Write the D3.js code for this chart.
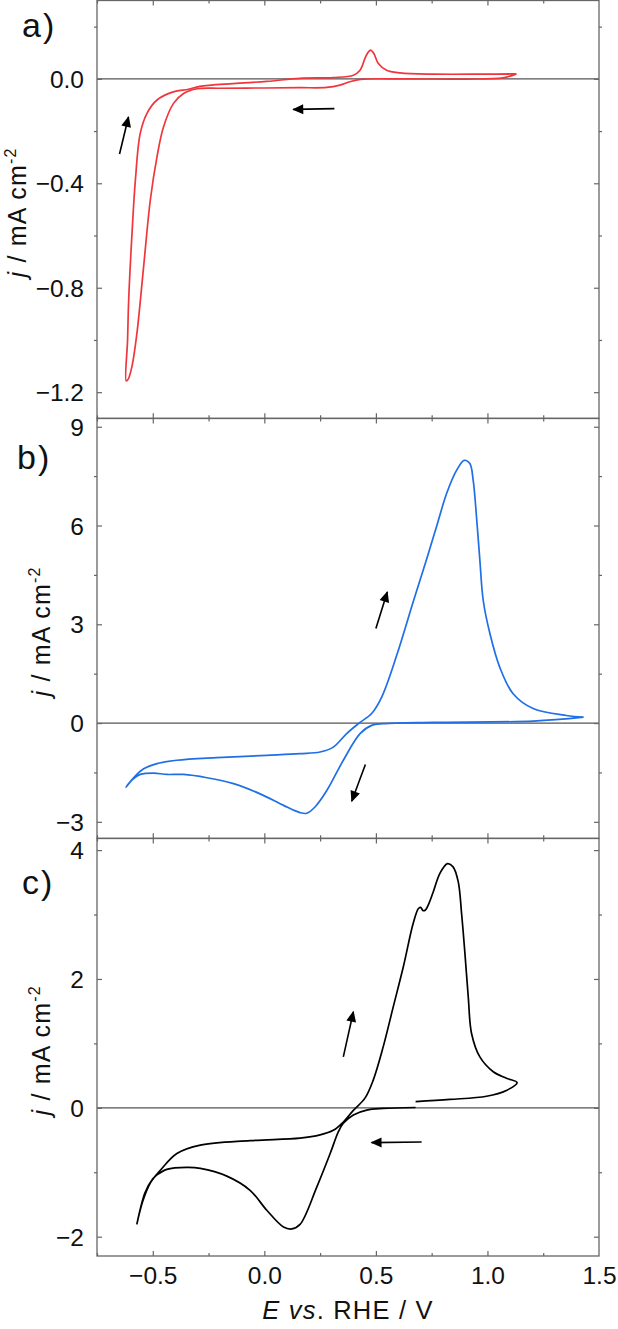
<!DOCTYPE html>
<html>
<head>
<meta charset="utf-8">
<script src="https://cdn.jsdelivr.net/npm/d3@7"></script>
<style>
  body { margin: 0; background: #fff; }
  svg { display: block; font-family: "Liberation Sans", Arial, sans-serif; }
</style>
</head>
<body>
<script>
// potential axis (shared)
const eTicks = [-0.5, 0.0, 0.5, 1.0, 1.5];
const eMinor = [-0.75, -0.25, 0.25, 0.75, 1.25];
const eDomain = [-0.75, 1.5];

// panel a: red CV, [E, j]
const cvA = [
  [1.13, 0.019], [1.07, 0.004], [0.906, -0.001], [0.61, 0.0], [0.43, -0.002], [0.384, -0.011],
  [0.339, -0.024], [0.28, -0.033], [0.16, -0.034], [0.0, -0.035], [-0.2, -0.036], [-0.3, -0.038],
  [-0.362, -0.056], [-0.407, -0.094], [-0.452, -0.184], [-0.481, -0.298], [-0.511, -0.464],
  [-0.541, -0.719], [-0.571, -0.974], [-0.593, -1.10], [-0.61, -1.15], [-0.619, -1.157],
  [-0.613, -1.0], [-0.608, -0.847], [-0.593, -0.591], [-0.578, -0.388], [-0.556, -0.208],
  [-0.526, -0.132], [-0.481, -0.081], [-0.408, -0.05], [-0.34, -0.04], [-0.29, -0.029],
  [-0.14, -0.018], [0.01, -0.010], [0.16, 0.002], [0.309, 0.005], [0.399, 0.014], [0.429, 0.033],
  [0.451, 0.078], [0.466, 0.103], [0.477, 0.110], [0.491, 0.097], [0.511, 0.059], [0.548, 0.033],
  [0.608, 0.023], [0.757, 0.018], [0.981, 0.018], [1.13, 0.019]
];
const jTicksA = [0.0, -0.4, -0.8, -1.2];
const jMinorA = [0.2, -0.2, -0.6, -1.0];
const arrowsA = [[[-0.649, -0.288], [-0.609, -0.146]], [[0.314, -0.114], [0.130, -0.117]]];

// panel b: blue CV
const cvB = [
  [1.431, 0.18], [1.205, 0.06], [0.757, 0.02], [0.533, -0.02], [0.481, -0.07], [0.429, -0.32],
  [0.354, -1.13], [0.28, -2.05], [0.227, -2.55], [0.19, -2.74], [0.16, -2.72], [0.086, -2.50],
  [-0.019, -2.15], [-0.138, -1.84], [-0.257, -1.66], [-0.362, -1.56], [-0.437, -1.56],
  [-0.496, -1.52], [-0.556, -1.56], [-0.586, -1.69], [-0.620, -1.945],
  [-0.58, -1.62], [-0.541, -1.39], [-0.481, -1.23], [-0.392, -1.13], [-0.213, -1.05], [0.011, -0.98],
  [0.160, -0.93], [0.25, -0.88], [0.309, -0.73], [0.369, -0.32], [0.421, -0.02], [0.481, 0.29],
  [0.526, 0.79], [0.593, 2.05], [0.668, 3.70], [0.727, 4.97], [0.772, 5.97], [0.817, 6.97],
  [0.862, 7.68], [0.896, 7.98], [0.921, 7.88], [0.936, 7.38], [0.951, 6.26], [0.966, 4.95],
  [0.981, 3.73], [1.011, 2.72], [1.055, 1.70], [1.115, 0.89], [1.205, 0.44], [1.354, 0.23], [1.431, 0.18]
];
const jTicksB = [9, 6, 3, 0, -3];
const jMinorB = [7.5, 4.5, 1.5, -1.5];
const arrowsB = [[[0.500, 2.87], [0.551, 3.98]], [[0.453, -1.26], [0.392, -2.37]]];

// panel c: black CV (open at 0.68 V)
const cvC = [
  [0.678, 0.005], [0.533, -0.01], [0.459, -0.035], [0.399, -0.11], [0.354, -0.24], [0.332, -0.37],
  [0.295, -0.71], [0.235, -1.23], [0.16, -1.81], [0.123, -1.88], [0.086, -1.85],
  [0.011, -1.59], [-0.064, -1.28], [-0.168, -1.06], [-0.287, -0.94], [-0.347, -0.925],
  [-0.437, -0.955], [-0.481, -1.04], [-0.50, -1.10], [-0.535, -1.32], [-0.571, -1.80],
  [-0.545, -1.45], [-0.51, -1.16], [-0.466, -0.97], [-0.392, -0.71], [-0.287, -0.58], [-0.064, -0.51],
  [0.160, -0.47], [0.25, -0.42], [0.309, -0.35], [0.354, -0.22], [0.399, -0.04], [0.451, 0.15],
  [0.488, 0.43], [0.533, 0.95], [0.578, 1.57], [0.623, 2.19], [0.667, 2.86], [0.69, 3.09],
  [0.70, 3.11], [0.712, 3.06], [0.722, 3.07], [0.735, 3.15], [0.757, 3.35], [0.787, 3.64],
  [0.821, 3.79], [0.846, 3.74], [0.869, 3.51], [0.884, 3.02], [0.899, 2.40], [0.914, 1.72],
  [0.929, 1.15], [0.966, 0.79], [1.026, 0.56], [1.085, 0.46], [1.133, 0.39], [1.085, 0.27],
  [0.996, 0.18], [0.832, 0.13], [0.678, 0.095]
];
const jTicksC = [4, 2, 0, -2];
const jMinorC = [3, 1, -1];
const arrowsC = [[[0.354, 0.79], [0.399, 1.49]], [[0.705, -0.53], [0.481, -0.54]]];

const width = 618, height = 1329;
const left = 97, right = 599;
const frameColor = '#666';
const textColor = '#111';

const svg = d3.select('body').append('svg')
  .attr('width', width)
  .attr('height', height);

svg.append('defs').append('marker')
  .attr('id', 'head')
  .attr('viewBox', '0 0 10 10')
  .attr('refX', 9).attr('refY', 5)
  .attr('markerWidth', 14).attr('markerHeight', 11)
  .attr('markerUnits', 'userSpaceOnUse')
  .attr('orient', 'auto')
  .append('path')
    .attr('d', 'M0,0.5 L10,5 L0,9.5 Z')
    .attr('fill', '#000');

const x = d3.scaleLinear().domain(eDomain).range([left, right]);

const fmtMinus = f => d => f(d).replace('-', '\u2212');

const panels = [
  { data: cvA, color: '#f0363c', domain: [-1.3, 0.3], top: 0.5, bottom: 418.3,
    ticks: jTicksA, minor: jMinorA, fmt: fmtMinus(d3.format('.1f')), arrows: arrowsA,
    label: 'a)', labelY: 37, labelX: 22, titleX: 26 },
  { data: cvB, color: '#1f6fe6', domain: [-3.5, 9.25], top: 418.5, bottom: 838.3,
    ticks: jTicksB, minor: jMinorB, fmt: fmtMinus(d3.format('d')), arrows: arrowsB,
    label: 'b)', labelY: 469, labelX: 17, titleX: 50 },
  { data: cvC, color: '#000', domain: [-2.3, 4.18], top: 838.5, bottom: 1256,
    ticks: jTicksC, minor: jMinorC, fmt: fmtMinus(d3.format('d')), arrows: arrowsC,
    label: 'c)', labelY: 894, labelX: 22, titleX: 50 }
];

panels.forEach(p => {
  const y = d3.scaleLinear().domain(p.domain).range([p.bottom, p.top]);
  const g = svg.append('g').attr('class', 'panel');

  // zero line
  g.append('line')
    .attr('x1', left).attr('x2', right)
    .attr('y1', y(0)).attr('y2', y(0))
    .attr('stroke', '#555')
    .attr('stroke-width', 1.2);

  // curve
  const line = d3.line()
    .x(d => x(d[0]))
    .y(d => y(d[1]))
    .curve(d3.curveCatmullRom.alpha(0.5));

  g.append('path')
    .datum(p.data)
    .attr('d', line)
    .attr('fill', 'none')
    .attr('stroke', p.color)
    .attr('stroke-width', 1.7)
    .attr('stroke-linejoin', 'round');

  // arrows
  g.selectAll('.arrow')
    .data(p.arrows)
    .join('line')
      .attr('class', 'arrow')
      .attr('x1', d => x(d[0][0])).attr('y1', d => y(d[0][1]))
      .attr('x2', d => x(d[1][0])).attr('y2', d => y(d[1][1]))
      .attr('stroke', '#000')
      .attr('stroke-width', 1.6)
      .attr('marker-end', 'url(#head)');

  // axes
  const styleAxis = sel => {
    sel.select('.domain').remove();
    sel.selectAll('line').attr('stroke', frameColor).attr('stroke-width', 1.2);
    sel.selectAll('text').attr('fill', textColor).attr('font-size', 24.5);
  };

  g.append('g')
    .attr('transform', `translate(${left},0)`)
    .call(d3.axisLeft(y).tickValues(p.ticks).tickSize(-5).tickPadding(13).tickFormat(p.fmt))
    .call(styleAxis)
    .call(sel => sel.selectAll('text').attr('dy', '0.35em'));
  g.append('g')
    .attr('transform', `translate(${left},0)`)
    .call(d3.axisLeft(y).tickValues(p.minor).tickSize(3).tickFormat(''))
    .call(styleAxis);
  g.append('g')
    .attr('transform', `translate(${right},0)`)
    .call(d3.axisRight(y).tickValues(p.ticks).tickSize(-5).tickFormat(''))
    .call(styleAxis);
  g.append('g')
    .attr('transform', `translate(${right},0)`)
    .call(d3.axisRight(y).tickValues(p.minor).tickSize(3).tickFormat(''))
    .call(styleAxis);

  // top and bottom ticks (inward)
  [[p.top, d3.axisTop], [p.bottom, d3.axisBottom]].forEach(([yy, ax]) => {
    g.append('g')
      .attr('transform', `translate(0,${yy})`)
      .call(ax(x).tickValues(eTicks.filter(v => v < 1.5)).tickSize(-5).tickFormat(''))
      .call(styleAxis);
    g.append('g')
      .attr('transform', `translate(0,${yy})`)
      .call(ax(x).tickValues(eMinor).tickSize(-3).tickFormat(''))
      .call(styleAxis);
  });

  // frame
  g.append('rect')
    .attr('x', left).attr('y', p.top)
    .attr('width', right - left).attr('height', p.bottom - p.top)
    .attr('fill', 'none')
    .attr('stroke', frameColor)
    .attr('stroke-width', 1.3);

  // panel label
  g.append('text')
    .attr('x', p.labelX).attr('y', p.labelY)
    .attr('font-size', 34)
    .attr('letter-spacing', 2)
    .attr('fill', textColor)
    .text(p.label);

  // y title
  const cy = (p.top + p.bottom) / 2 + 3;
  const title = g.append('text')
    .attr('transform', `translate(${p.titleX},${cy}) rotate(-90)`)
    .attr('text-anchor', 'middle')
    .attr('font-size', 25)
    .attr('letter-spacing', 1.2)
    .attr('fill', textColor);
  title.append('tspan').attr('font-style', 'italic').text('j');
  title.append('tspan').text(' / mA cm');
  title.append('tspan').attr('font-size', 16).attr('dy', -10).text('-2');
});

// bottom x tick labels
const xLabels = svg.append('g')
  .attr('transform', `translate(0,1256)`)
  .call(d3.axisBottom(x).tickValues(eTicks).tickSize(0).tickPadding(11).tickFormat(fmtMinus(d3.format('.1f'))));
xLabels.select('.domain').remove();
xLabels.selectAll('text').attr('fill', textColor).attr('font-size', 24.5)
  .attr('font-family', '"Liberation Sans", Arial, sans-serif');

// x title
const xt = svg.append('text')
  .attr('x', 348).attr('y', 1319)
  .attr('text-anchor', 'middle')
  .attr('font-size', 25.5)
  .attr('letter-spacing', 1.2)
  .attr('fill', textColor);
xt.append('tspan').attr('font-style', 'italic').text('E vs');
xt.append('tspan').text('. RHE / V');
</script>
</body>
</html>
